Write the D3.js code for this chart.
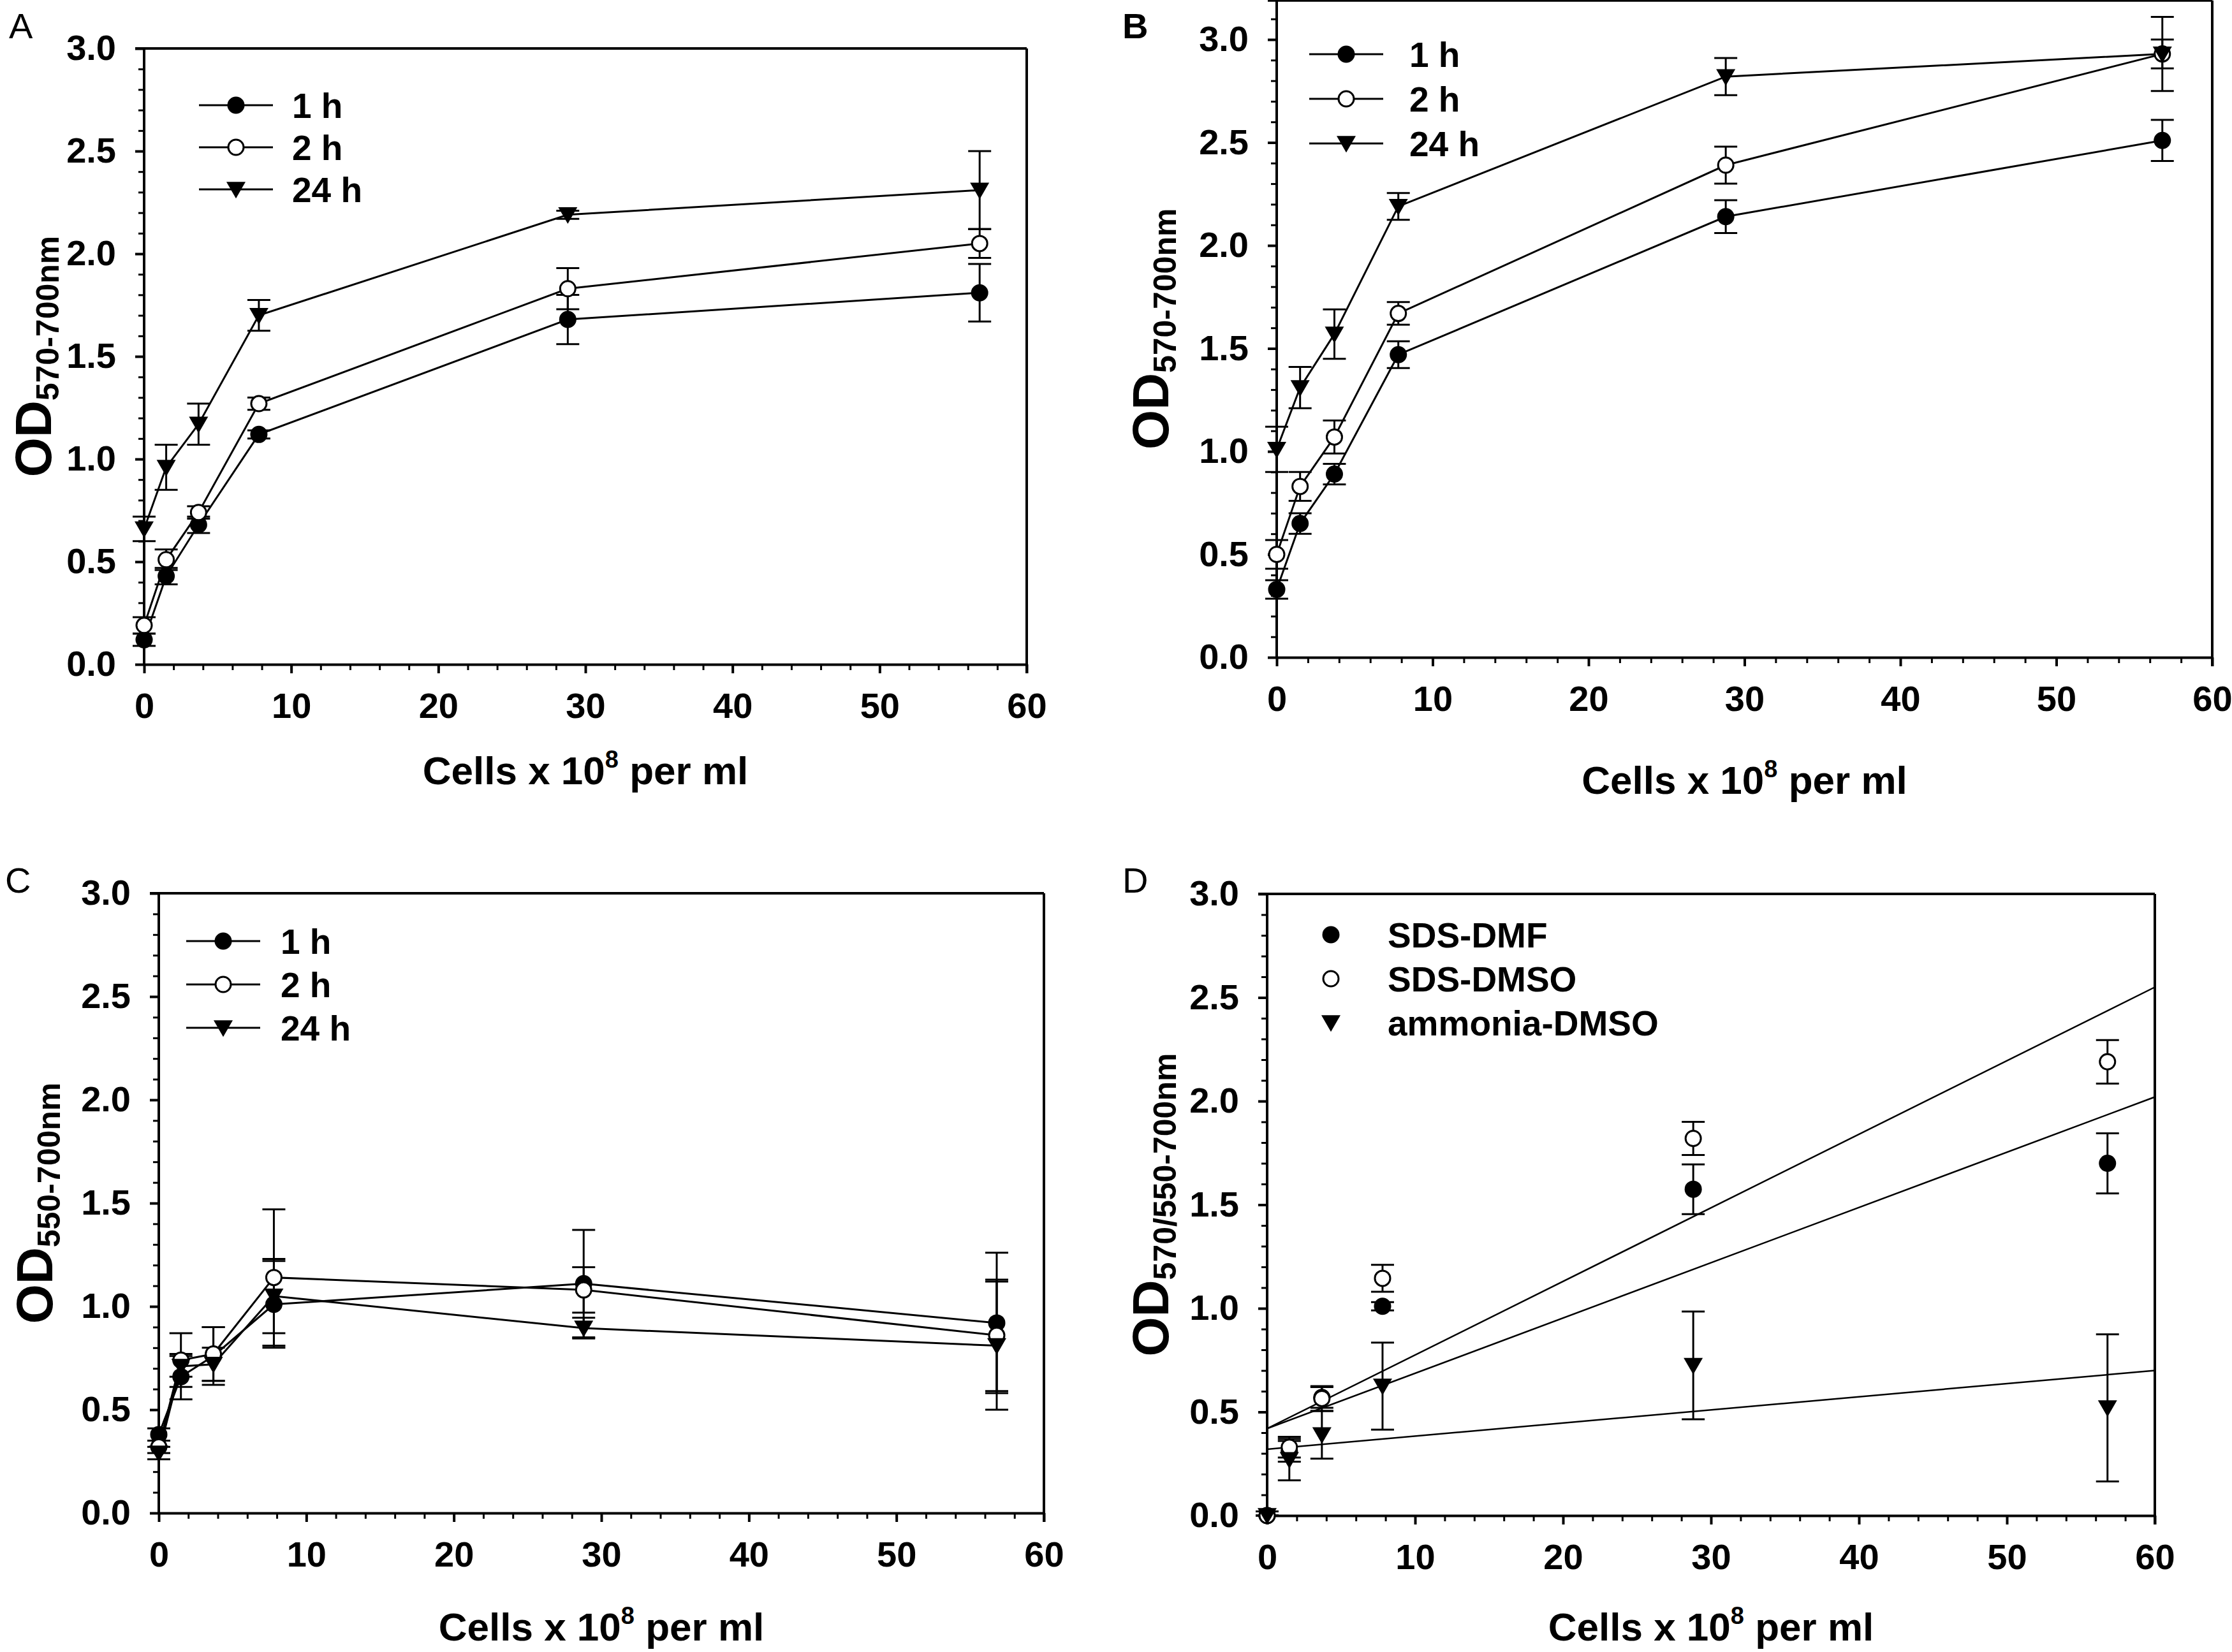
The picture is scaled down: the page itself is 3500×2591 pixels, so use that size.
<!DOCTYPE html>
<html><head><meta charset="utf-8">
<script src="https://cdn.jsdelivr.net/npm/d3@7"></script>
<style>
html,body{margin:0;padding:0;background:#fff;}
svg{display:block;}
</style></head>
<body>
<svg id="chart" width="3500" height="2591"></svg>
<script>
// ---------------- data ----------------
const cells = [0, 1.5, 3.7, 7.8, 28.8, 56.8];
const timeLabels = ["1 h", "2 h", "24 h"];
const methodLabels = ["SDS-DMF", "SDS-DMSO", "ammonia-DMSO"];
const yTicks = [0, 0.5, 1.0, 1.5, 2.0, 2.5, 3.0];
const xTicks = [0, 10, 20, 30, 40, 50, 60];

// Panel A  (OD570-700nm)
const a1h = [0.12, 0.43, 0.68, 1.12, 1.68, 1.81];
const a1hErr = [0.03, 0.04, 0.04, 0.02, 0.12, 0.14];
const a2h = [0.19, 0.51, 0.74, 1.27, 1.83, 2.05];
const a2hErr = [0.04, 0.05, 0.03, 0.03, 0.10, 0.07];
const a24h = [0.66, 0.96, 1.17, 1.70, 2.19, 2.31];
const a24hErr = [0.06, 0.11, 0.10, 0.075, 0.02, 0.19];

// Panel B  (OD570-700nm)
const b1h = [0.33, 0.65, 0.89, 1.47, 2.14, 2.51];
const b1hErr = [0.045, 0.05, 0.05, 0.065, 0.08, 0.10];
const b2h = [0.50, 0.83, 1.07, 1.67, 2.39, 2.93];
const b2hErr = [0.07, 0.07, 0.08, 0.055, 0.09, 0.07];
const b24h = [1.01, 1.31, 1.57, 2.19, 2.82, 2.93];
const b24hErr = [0.11, 0.10, 0.12, 0.065, 0.09, 0.18];

// Panel C  (OD550-700nm)
const c1h = [0.38, 0.66, 0.76, 1.01, 1.11, 0.92];
const c1hErr = [0.03, 0.11, 0.14, 0.21, 0.26, 0.34];
const c2h = [0.32, 0.74, 0.77, 1.14, 1.08, 0.86];
const c2hErr = [0.03, 0.13, 0.13, 0.33, 0.11, 0.27];
const c24h = [0.29, 0.71, 0.72, 1.05, 0.895, 0.81];
const c24hErr = [0.03, 0.05, 0.08, 0.18, 0.05, 0.31];

// Panel D  (OD570/550-700nm)
const dDmf = [0.0, 0.31, 0.57, 1.01, 1.575, 1.70];
const dDmfErr = [0.02, 0.05, 0.05, 0.02, 0.12, 0.145];
const dDmso = [0.0, 0.33, 0.565, 1.145, 1.82, 2.19];
const dDmsoErr = [0.02, 0.05, 0.06, 0.065, 0.08, 0.105];
const dAmm = [0.0, 0.27, 0.39, 0.625, 0.725, 0.52];
const dAmmErr = [0.02, 0.10, 0.115, 0.21, 0.26, 0.355];
// regression lines: value at x=0 and at x=60
const fitStart = [0.42, 0.42, 0.32];
const fitEnd = [2.02, 2.55, 0.70];

// ---------------- drawing ----------------
const svg = d3.select("#chart");
const FONT = "'Liberation Sans', Arial, Helvetica, sans-serif";
const markerTypes = ["filled", "open", "tri"];

function drawMarker(g, type, cx, cy) {
  if (type === "tri") {
    const w = 15, h = 26;
    g.append("path")
      .attr("d", `M${cx - w},${cy - h * 0.45} L${cx + w},${cy - h * 0.45} L${cx},${cy + h * 0.55} Z`)
      .attr("fill", "#000");
  } else {
    g.append("circle").attr("cx", cx).attr("cy", cy)
      .attr("r", type === "open" ? 12 : 13.5)
      .attr("fill", type === "open" ? "#fff" : "#000")
      .attr("stroke", "#000").attr("stroke-width", type === "open" ? 3 : 0);
  }
}

function panel(cfg) {
  const x = d3.scaleLinear().domain([0, 60]).range([cfg.x0, cfg.x1]);
  const y = d3.scaleLinear().domain([0, 3]).range([cfg.y0, cfg.y1]);
  const g = svg.append("g");

  // frame (top and right)
  const yTop = y(cfg.yTop);
  g.append("line").attr("x1", x(0) - 14).attr("x2", x(60)).attr("y1", yTop).attr("y2", yTop)
    .attr("stroke", "#000").attr("stroke-width", 4);
  g.append("line").attr("x1", x(60)).attr("x2", x(60)).attr("y1", yTop).attr("y2", y(0) + 14)
    .attr("stroke", "#000").attr("stroke-width", 4);

  // minor ticks
  const yMinor = d3.range(0, Math.round(cfg.yTop * 10) + 1).map(v => v / 10);
  const xMinor = d3.range(0, 31).map(v => v * 2);
  g.append("g").attr("transform", `translate(${x(0)},0)`)
    .call(d3.axisLeft(y).tickValues(yMinor).tickSize(9).tickSizeOuter(0).tickFormat(""))
    .call(s => s.select(".domain").remove())
    .selectAll("line").attr("stroke-width", 3);
  g.append("g").attr("transform", `translate(0,${y(0)})`)
    .call(d3.axisBottom(x).tickValues(xMinor).tickSize(9).tickSizeOuter(0).tickFormat(""))
    .call(s => s.select(".domain").remove())
    .selectAll("line").attr("stroke-width", 3);

  // major axes
  const ya = g.append("g").attr("transform", `translate(${x(0)},0)`)
    .call(d3.axisLeft(y).tickValues(yTicks).tickSize(14).tickSizeOuter(0).tickPadding(30).tickFormat(d3.format(".1f")));
  ya.select(".domain").attr("d", `M0,${yTop}V${y(0)}`).attr("stroke-width", 4);
  ya.selectAll(".tick line").attr("stroke-width", 4);
  ya.selectAll("text").attr("font-family", FONT).attr("font-weight", "bold").attr("font-size", 56).attr("fill", "#000");

  const xa = g.append("g").attr("transform", `translate(0,${y(0)})`)
    .call(d3.axisBottom(x).tickValues(xTicks).tickSize(14).tickSizeOuter(0).tickPadding(30).tickFormat(d3.format("d")));
  xa.select(".domain").attr("stroke-width", 4);
  xa.selectAll(".tick line").attr("stroke-width", 4);
  xa.selectAll("text").attr("font-family", FONT).attr("font-weight", "bold").attr("font-size", 56).attr("fill", "#000");

  // x title
  const xt = g.append("text").attr("x", (x(0) + x(60)) / 2).attr("y", y(0) + cfg.xTitleOff)
    .attr("text-anchor", "middle").attr("font-family", FONT).attr("font-weight", "bold")
    .attr("font-size", 62).attr("fill", "#000");
  xt.append("tspan").text("Cells x 10");
  xt.append("tspan").attr("font-size", 38).attr("dy", -26).text("8");
  xt.append("tspan").attr("dy", 26).text(" per ml");

  // y title
  const yc = (y(0) + yTop) / 2;
  const ytt = g.append("text").attr("transform", `translate(${cfg.yTitleX},${yc}) rotate(-90)`)
    .attr("text-anchor", "middle").attr("font-family", FONT).attr("font-weight", "bold")
    .attr("font-size", 80).attr("fill", "#000");
  ytt.append("tspan").text("OD");
  ytt.append("tspan").attr("font-size", 50).attr("dy", 12).text(cfg.sub);

  // panel letter
  g.append("text").attr("x", cfg.letterX).attr("y", cfg.letterY).text(cfg.letter)
    .attr("font-family", FONT).attr("font-size", 56).attr("fill", "#000")
    .attr("font-weight", cfg.letterBold ? "bold" : "normal");

  // fit lines
  if (cfg.fits) {
    cfg.fits.forEach(f => {
      g.append("line").attr("x1", x(0)).attr("y1", y(f[0])).attr("x2", x(60)).attr("y2", y(f[1]))
        .attr("stroke", "#000").attr("stroke-width", 2.5);
    });
  }

  // series
  const line = d3.line().x(d => x(d[0])).y(d => y(d[1]));
  cfg.series.forEach(s => {
    const pts = cells.map((c, i) => [c, s.v[i], s.e[i]]);
    if (cfg.connect) {
      g.append("path").attr("d", line(pts)).attr("fill", "none").attr("stroke", "#000").attr("stroke-width", 3);
    }
    pts.forEach(p => {
      const px = x(p[0]);
      const yHi = y(p[1] + p[2]), yLo = y(Math.max(0, p[1] - p[2]));
      g.append("line").attr("x1", px).attr("x2", px).attr("y1", yHi).attr("y2", yLo).attr("stroke", "#000").attr("stroke-width", 3);
      g.append("line").attr("x1", px - 18).attr("x2", px + 18).attr("y1", yHi).attr("y2", yHi).attr("stroke", "#000").attr("stroke-width", 3);
      g.append("line").attr("x1", px - 18).attr("x2", px + 18).attr("y1", yLo).attr("y2", yLo).attr("stroke", "#000").attr("stroke-width", 3);
    });
  });
  cfg.series.forEach(s => {
    cells.forEach((c, i) => drawMarker(g, s.m, x(c), y(s.v[i])));
  });

  // legend
  cfg.legend.labels.forEach((lab, i) => {
    const ly = cfg.legend.y + i * cfg.legend.dy;
    const L = cfg.legend;
    if (cfg.connect) {
      g.append("line").attr("x1", L.x).attr("x2", L.x + 116).attr("y1", ly).attr("y2", ly)
        .attr("stroke", "#000").attr("stroke-width", 3);
      drawMarker(g, markerTypes[i], L.x + 58, ly);
    } else {
      drawMarker(g, markerTypes[i], L.x + 18, ly);
    }
    g.append("text").attr("x", L.tx).attr("y", ly + 20).text(lab)
      .attr("font-family", FONT).attr("font-weight", "bold").attr("font-size", 55).attr("fill", "#000");
  });
}

panel({ letter: "A", letterX: 14, letterY: 60, x0: 226, x1: 1610, y0: 1042, y1: 76, yTop: 3,
  xTitleOff: 188, yTitleX: 80, sub: "570-700nm", connect: true,
  legend: { labels: timeLabels, x: 312, tx: 458, y: 165, dy: 66 },
  series: [{ v: a1h, e: a1hErr, m: "filled" }, { v: a2h, e: a2hErr, m: "open" }, { v: a24h, e: a24hErr, m: "tri" }] });

panel({ letter: "B", letterBold: true, letterX: 1760, letterY: 60, x0: 2002, x1: 3469, y0: 1031, y1: 62, yTop: 3.19,
  xTitleOff: 214, yTitleX: 1832, sub: "570-700nm", connect: true,
  legend: { labels: timeLabels, x: 2053, tx: 2210, y: 85, dy: 70 },
  series: [{ v: b1h, e: b1hErr, m: "filled" }, { v: b2h, e: b2hErr, m: "open" }, { v: b24h, e: b24hErr, m: "tri" }] });

panel({ letter: "C", letterX: 8, letterY: 1400, x0: 249, x1: 1637, y0: 2373, y1: 1401, yTop: 3,
  xTitleOff: 200, yTitleX: 82, sub: "550-700nm", connect: true,
  legend: { labels: timeLabels, x: 292, tx: 440, y: 1476, dy: 68 },
  series: [{ v: c1h, e: c1hErr, m: "filled" }, { v: c2h, e: c2hErr, m: "open" }, { v: c24h, e: c24hErr, m: "tri" }] });

panel({ letter: "D", letterX: 1760, letterY: 1400, x0: 1987, x1: 3379, y0: 2377, y1: 1402, yTop: 3,
  xTitleOff: 196, yTitleX: 1832, sub: "570/550-700nm", connect: false,
  fits: fitStart.map((s, i) => [s, fitEnd[i]]),
  legend: { labels: methodLabels, x: 2069, tx: 2176, y: 1466, dy: 69 },
  series: [{ v: dDmf, e: dDmfErr, m: "filled" }, { v: dDmso, e: dDmsoErr, m: "open" }, { v: dAmm, e: dAmmErr, m: "tri" }] });
</script>
</body></html>
